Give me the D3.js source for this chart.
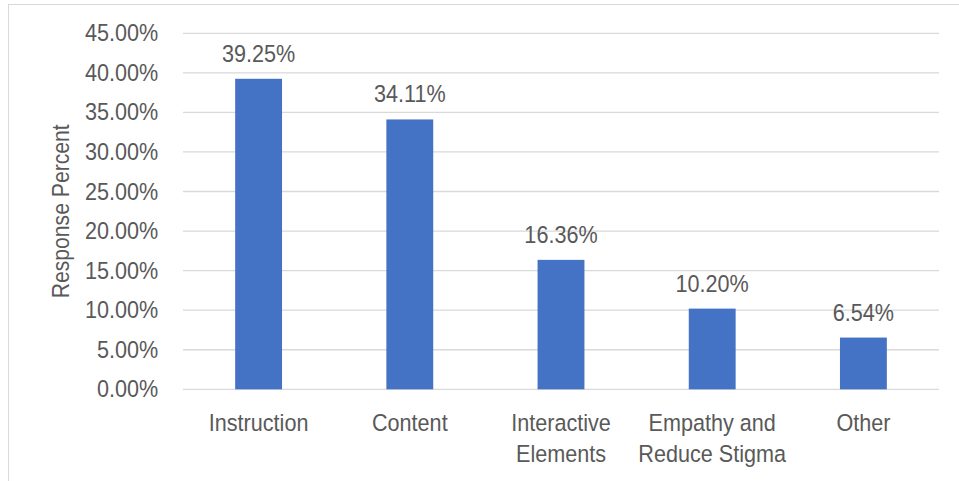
<!DOCTYPE html>
<html><head><meta charset="utf-8">
<script src="https://cdn.jsdelivr.net/npm/d3@7"></script>
<style>body{margin:0;background:#fff}svg{display:block}text{font-family:"Liberation Sans",Arial,sans-serif;fill:#595959}</style>
</head><body>
<script>
const categories = ["Instruction", "Content", "Interactive Elements", "Empathy and Reduce Stigma", "Other"];
const categoryLines = [["Instruction"], ["Content"], ["Interactive", "Elements"], ["Empathy and", "Reduce Stigma"], ["Other"]];
const values = [39.25, 34.11, 16.36, 10.20, 6.54];
const yTicks = [0, 5, 10, 15, 20, 25, 30, 35, 40, 45];
const yTitle = "Response Percent";

const W = 959, H = 481;
const FS = 23.5, SX = 0.92;
const svg = d3.select("body").append("svg").attr("width", W).attr("height", H);

// chart frame
svg.append("rect").attr("x", 8.5).attr("y", 4.5).attr("width", W + 10).attr("height", H + 10)
  .attr("fill", "none").attr("stroke", "#d9d9d9").attr("stroke-width", 1);

const pLeft = 183, pRight = 939, pTop = 33.3, pBottom = 389.3;
const x = d3.scaleBand().domain(categories).range([pLeft, pRight]).paddingInner(0.69).paddingOuter(0.345);
const y = d3.scaleLinear().domain([0, 45]).range([pBottom, pTop]);

// gridlines
svg.append("g").selectAll("line").data(yTicks).join("line")
  .attr("x1", pLeft).attr("x2", pRight)
  .attr("y1", d => y(d)).attr("y2", d => y(d))
  .attr("stroke", "#d9d9d9").attr("stroke-width", 1.3);

// y tick labels
const yAxis = d3.axisLeft(y).tickValues(yTicks).tickFormat(d => d.toFixed(2) + "%").tickSize(0).tickPadding(27);
const ya = svg.append("g").attr("transform", `translate(${pLeft},0)`).call(yAxis);
ya.select(".domain").remove();
ya.selectAll("text").style("font-size", FS + "px").attr("fill", "#595959")
  .attr("font-family", "Liberation Sans, Arial, sans-serif")
  .attr("transform", `scale(${SX},1)`);

// bars
svg.append("g").selectAll("rect").data(values).join("rect")
  .attr("x", (d, i) => x(categories[i]))
  .attr("width", x.bandwidth())
  .attr("y", d => y(d))
  .attr("height", d => y(0) - y(d))
  .attr("fill", "#4472c4");

// value labels
svg.append("g").selectAll("text").data(values).join("text")
  .attr("transform", (d, i) => `translate(${x(categories[i]) + x.bandwidth() / 2},${y(d) - 17}) scale(${SX},1)`)
  .attr("text-anchor", "middle")
  .style("font-size", FS + "px")
  .text(d => d.toFixed(2) + "%");

// category labels
const cg = svg.append("g");
categoryLines.forEach((lines, i) => {
  const t = cg.append("text")
    .attr("transform", `translate(${x(categories[i]) + x.bandwidth() / 2},${pBottom + 42}) scale(${SX},1)`)
    .attr("text-anchor", "middle")
    .style("font-size", FS + "px");
  lines.forEach((l, j) => {
    t.append("tspan").attr("x", 0).attr("dy", j === 0 ? 0 : 31).text(l);
  });
});

// y title
svg.append("text")
  .attr("transform", `translate(69,${(pTop + pBottom) / 2}) rotate(-90) scale(${SX},1)`)
  .attr("text-anchor", "middle")
  .style("font-size", "23px")
  .text(yTitle);
</script>
</body></html>
